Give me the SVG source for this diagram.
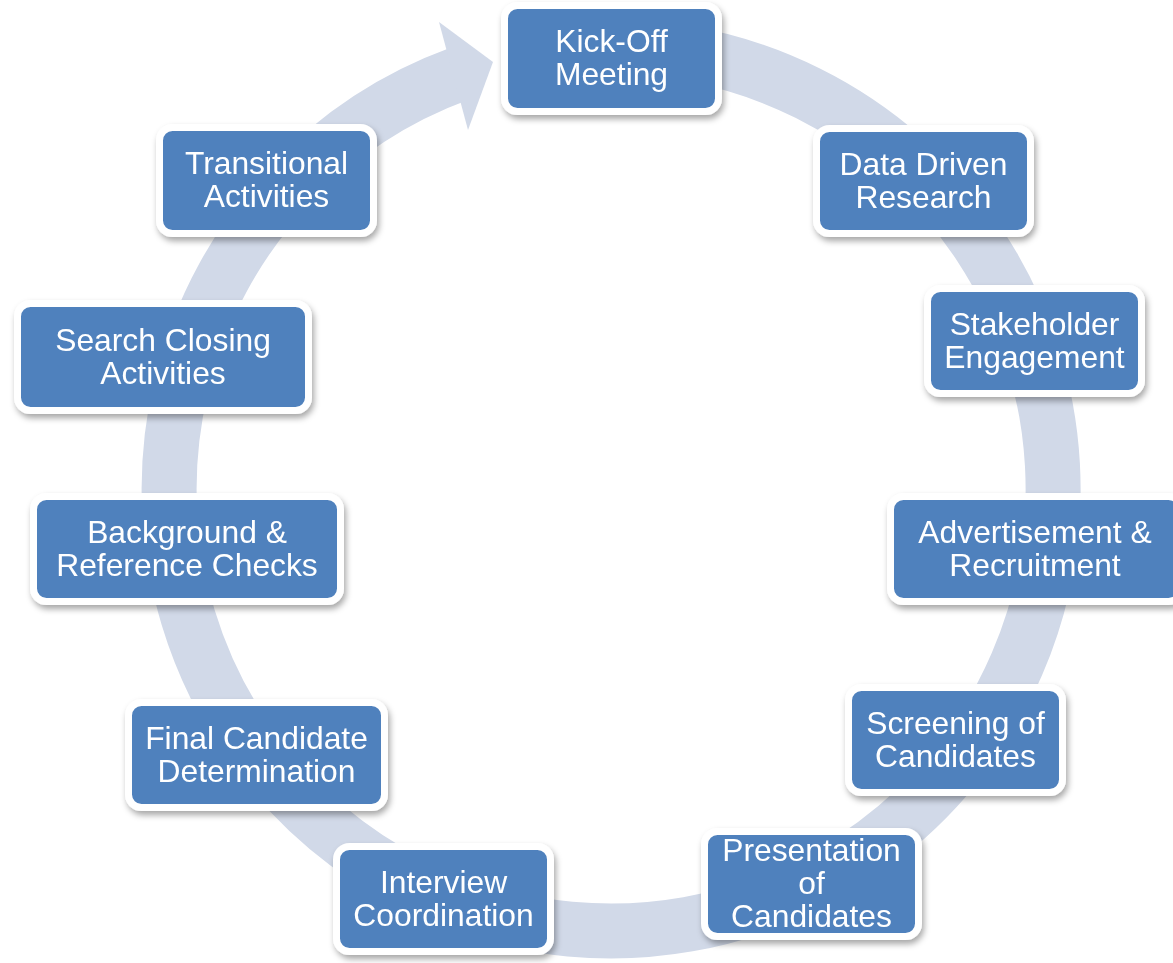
<svg xmlns="http://www.w3.org/2000/svg" width="1173" height="963" viewBox="0 0 1173 963">
<style>
.box{fill:#4F81BD;stroke:#FFFFFF;stroke-width:7}
.lbl{font-family:"Liberation Sans",Arial,sans-serif;font-size:31.8px;fill:#FFFFFF;text-anchor:middle}
.ring{fill:none;stroke:#D1D9E8;stroke-width:55}
</style>
<defs>
<filter id="sh" x="-10%" y="-10%" width="120%" height="130%">
<feDropShadow dx="2" dy="4" stdDeviation="3" flood-color="#000000" flood-opacity="0.35"/>
</filter>
</defs>
<g id="connectors">
<path class="ring" d="M 611 47 A 442 442 0 1 1 459.8 73.7"/>
<polygon points="439,22 493,62 468,130" fill="#D1D9E8"/>
</g>
<g id="n1" filter="url(#sh)"><rect class="box" x="504.5" y="5.5" width="214" height="106" rx="13"/><text class="lbl" x="611.5" y="52">Kick-Off</text><text class="lbl" x="611.5" y="85">Meeting</text></g>
<g id="n2" filter="url(#sh)"><rect class="box" x="816.5" y="128.5" width="214" height="105" rx="13"/><text class="lbl" x="923.5" y="174.5">Data Driven</text><text class="lbl" x="923.5" y="207.5">Research</text></g>
<g id="n3" filter="url(#sh)"><rect class="box" x="927.5" y="288.5" width="214" height="105" rx="13"/><text class="lbl" x="1034.5" y="334.5">Stakeholder</text><text class="lbl" x="1034.5" y="367.5">Engagement</text></g>
<g id="n4" filter="url(#sh)"><rect class="box" x="890.5" y="496.5" width="291" height="105" rx="13"/><text class="lbl" x="1035" y="542.5">Advertisement &amp;</text><text class="lbl" x="1035" y="575.5">Recruitment</text></g>
<g id="n5" filter="url(#sh)"><rect class="box" x="848.5" y="687.5" width="214" height="105" rx="13"/><text class="lbl" x="955.5" y="733.5">Screening of</text><text class="lbl" x="955.5" y="766.5">Candidates</text></g>
<g id="n6" filter="url(#sh)"><rect class="box" x="704.5" y="831.5" width="214" height="105" rx="13"/><text class="lbl" x="811.5" y="861">Presentation</text><text class="lbl" x="811.5" y="894">of</text><text class="lbl" x="811.5" y="927">Candidates</text></g>
<g id="n7" filter="url(#sh)"><rect class="box" x="336.5" y="846.5" width="214" height="105" rx="13"/><text class="lbl" x="443.5" y="892.5">Interview</text><text class="lbl" x="443.5" y="925.5">Coordination</text></g>
<g id="n8" filter="url(#sh)"><rect class="box" x="128.5" y="702.5" width="256" height="105" rx="13"/><text class="lbl" x="256.5" y="748.5">Final Candidate</text><text class="lbl" x="256.5" y="781.5">Determination</text></g>
<g id="n9" filter="url(#sh)"><rect class="box" x="33.5" y="496.5" width="307" height="105" rx="13"/><text class="lbl" x="187" y="542.5">Background &amp;</text><text class="lbl" x="187" y="575.5">Reference Checks</text></g>
<g id="n10" filter="url(#sh)"><rect class="box" x="17.5" y="303.5" width="291" height="107" rx="13"/><text class="lbl" x="163" y="350.5">Search Closing</text><text class="lbl" x="163" y="383.5">Activities</text></g>
<g id="n11" filter="url(#sh)"><rect class="box" x="159.5" y="127.5" width="214" height="106" rx="13"/><text class="lbl" x="266.5" y="174">Transitional</text><text class="lbl" x="266.5" y="207">Activities</text></g>
</svg>
